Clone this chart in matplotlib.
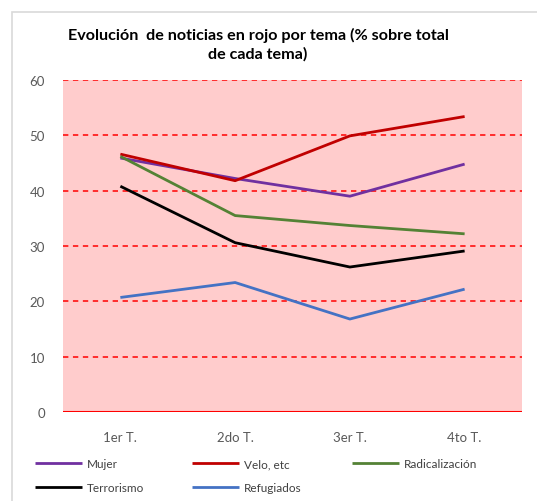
import matplotlib
matplotlib.use("Agg")
import matplotlib.pyplot as plt
from matplotlib.patches import Rectangle

plt.rcParams['font.family'] = ['Lato', 'DejaVu Sans']

categories = ["1er T.", "2do T.", "3er T.", "4to T."]
mujer = [45.9, 42.2, 39.0, 44.8]
velo = [46.6, 41.8, 49.9, 53.4]
radicalizacion = [46.2, 35.5, 33.7, 32.2]
terrorismo = [40.8, 30.6, 26.2, 29.1]
refugiados = [20.7, 23.4, 16.8, 22.2]
yticks = [0, 10, 20, 30, 40, 50, 60]
title = "Evolución  de noticias en rojo por tema (% sobre total\nde cada tema)"

W, H = 537, 502
fig = plt.figure(figsize=(W / 100, H / 100), dpi=100)
fig.patch.set_facecolor("white")

# chart border
fig.patches.append(Rectangle((12 / W, -0.1), 1.2, 1 - 13 / H + 0.1,
                             transform=fig.transFigure, fill=False,
                             edgecolor="#d9d9d9", linewidth=1.2))

ax = fig.add_axes([63 / W, 1 - 413 / H, (522 - 63) / W, (413 - 81) / H])
ax.set_facecolor("#ffcccc")
x = list(range(len(categories)))

series = [
    ("Mujer", mujer, "#7030a0"),
    ("Velo, etc", velo, "#c00000"),
    ("Radicalización", radicalizacion, "#548235"),
    ("Terrorismo", terrorismo, "#000000"),
    ("Refugiados", refugiados, "#4472c4"),
]
lines = {}
for i, (name, vals, col) in enumerate(series):
    ln, = ax.plot(x, vals, color=col, linewidth=2.0, label=name,
                  zorder=3 + i * 0.1, solid_capstyle="butt")
    lines[name] = ln

ax.set_xlim(-0.5, len(categories) - 0.5)
ax.set_ylim(0, 60)
ax.set_yticks(yticks)
ax.set_xticks(x)
ax.set_xticklabels(categories)
for yv in yticks[1:]:
    ax.axhline(yv, color="#ff0000", linestyle=(0, (3.5, 3)), linewidth=1.1, zorder=2)
ax.axhline(0, color="#ff0000", linewidth=1.5, zorder=2)

for s in ax.spines.values():
    s.set_visible(False)
ax.tick_params(axis="both", length=0, colors="#595959", labelsize=9.5)
ax.tick_params(axis="y", pad=13)
ax.tick_params(axis="x", pad=14)

fig.text(258 / W, 1 - 45 / H, title, ha="center", va="center",
         fontsize=11.6, fontweight="bold", color="#000000", linespacing=1.4)

# legend: three columns placed like the original
columns = [(35, ["Mujer", "Terrorismo"]),
           (192, ["Velo, etc", "Refugiados"]),
           (352, ["Radicalización"])]
for xpx, names in columns:
    leg = fig.legend(handles=[lines[n] for n in names], labels=names, ncol=1,
                     loc="upper left", bbox_to_anchor=(xpx / W, 1 - 459 / H),
                     frameon=False, fontsize=8.5, handlelength=4.0,
                     handletextpad=0.4, labelspacing=1.1,
                     borderpad=0, borderaxespad=0)
    for t in leg.get_texts():
        t.set_color("#404040")

fig.savefig("out.png", dpi=100)
